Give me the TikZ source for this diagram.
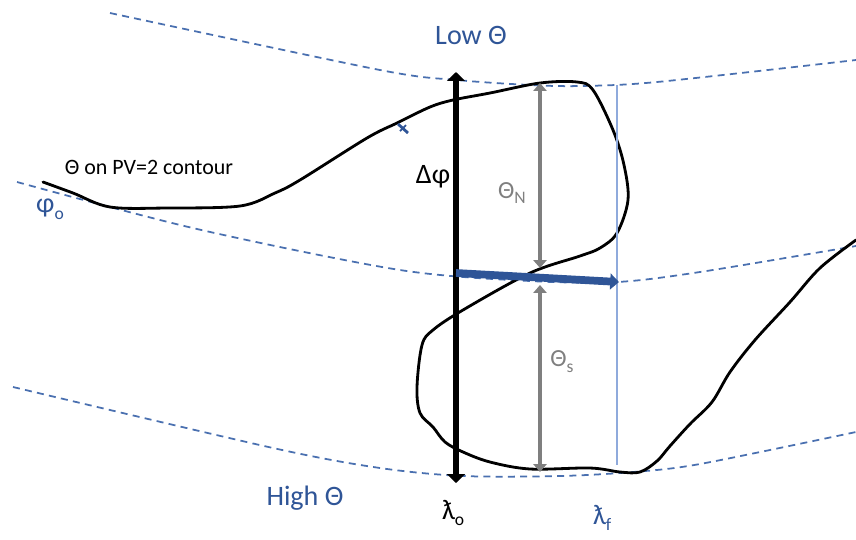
\documentclass[tikz,border=0pt]{standalone}
\usepackage{fontspec}
\setmainfont{Carlito}
\usetikzlibrary{arrows.meta}
\definecolor{isoblue}{HTML}{4A70B0}
\definecolor{labblue}{HTML}{2F5597}
\definecolor{thinblue}{HTML}{8FAADC}
\definecolor{thgray}{HTML}{7F7F7F}
\newcommand{\lsub}[1]{\raisebox{-0.5ex}{\fontsize{10}{12}\selectfont #1}}

\begin{document}
\begin{tikzpicture}[x=0.02cm,y=-0.02cm,
  isentrope/.style={isoblue,line width=1pt,dash pattern=on 4pt off 3pt},
  contour/.style={line width=1.6pt,line join=round,line cap=round},
  grayarrow/.style={thgray,line width=2.8pt,{Triangle[length=4.5pt,width=7.5pt]}-{Triangle[length=4.5pt,width=7.5pt]}},
  lab/.style={font=\fontsize{16}{19}\selectfont,inner sep=0pt}]
  \useasboundingbox (0,0) rectangle (856,539);
  % theta surfaces (dashed)
  \draw[isentrope] plot[smooth] coordinates {(110,13) (380,70) (457,80) (530,85) (580,86) (657,82) (856,60)};
  \draw[isentrope] plot[smooth] coordinates {(17,182) (197,229) (400,270) (530,281) (617,282) (700,272) (856,246)};
  \draw[isentrope] plot[smooth] coordinates {(13,387) (273,448) (380,468) (463,476) (560,476) (633,472) (700,464) (856,432)};
  % theta on PV=2 contour
  \draw[contour] plot[smooth,tension=0.55] coordinates {(43,182) (73,193) (110,207) (167,208) (240,206) (275,193) (300,180)
    (367,138) (397,123) (430,107) (453,100) (490,93) (540,83) (577,82) (593,90) (613,130) (624,165) (628,200)
    (617,233) (600,248) (580,256) (530,273) (463,310) (433,330) (422,345) (417,387) (420,413) (433,427) (445,442)
    (463,452) (490,462) (530,469) (590,468) (620,472) (640,472) (657,461) (670,446) (690,424) (712,402)
    (730,372) (755,340) (790,302) (820,268) (856,240)};
  \draw[labblue,line width=1.6pt] (398,124) -- (408,133);
  \draw[labblue,line width=1pt] (400,131) -- (406,125);
  % final longitude
  \coordinate (lf top) at (617,85);
  \coordinate (lf bot) at (617,465);
  \draw[thinblue,line width=0.6pt] (lf top) -- (lf bot);
  % arrows
  \coordinate (lo top) at (456,72);
  \coordinate (lo bot) at (456,483);
  \draw[line width=3.8pt,{Triangle[length=5pt,width=10pt]}-{Triangle[length=5pt,width=10pt]}] (lo bot) -- (lo top);
  \coordinate (n top) at (540,83);
  \coordinate (n bot) at (540,268);
  \coordinate (s top) at (540,285);
  \coordinate (s bot) at (540,472);
  \draw[grayarrow] (n bot) -- (n top);
  \draw[grayarrow] (s bot) -- (s top);
  \coordinate (shift a) at (456,273);
  \coordinate (shift b) at (619,282);
  \draw[labblue,line width=4.4pt,-{Triangle[length=5pt,width=9pt]}] (shift a) -- (shift b);
  % labels
  \node[lab,labblue] (low) at (471,35) {Low Θ};
  \node[lab,labblue] (high) at (305,498) {High Θ};
  \node[font=\fontsize{12.5}{15}\selectfont,inner sep=0pt] (pv) at (149,167) {Θ on PV=2 contour};
  \node[lab,labblue] (phio) at (50,209) {φ\lsub{o}};
  \node[lab] (dphi) at (433,177) {Δφ};
  \node[lab,thgray,font=\fontsize{14}{17}\selectfont] (thn) at (512,193) {Θ\lsub{N}};
  \node[lab,thgray,font=\fontsize{14}{17}\selectfont] (ths) at (562,362) {Θ\lsub{s}};
  \node[lab] (lamo) at (453,513) {ƛ\lsub{o}};
  \node[lab,labblue] (lamf) at (602,518) {ƛ\lsub{f}};
\end{tikzpicture}
\end{document}
